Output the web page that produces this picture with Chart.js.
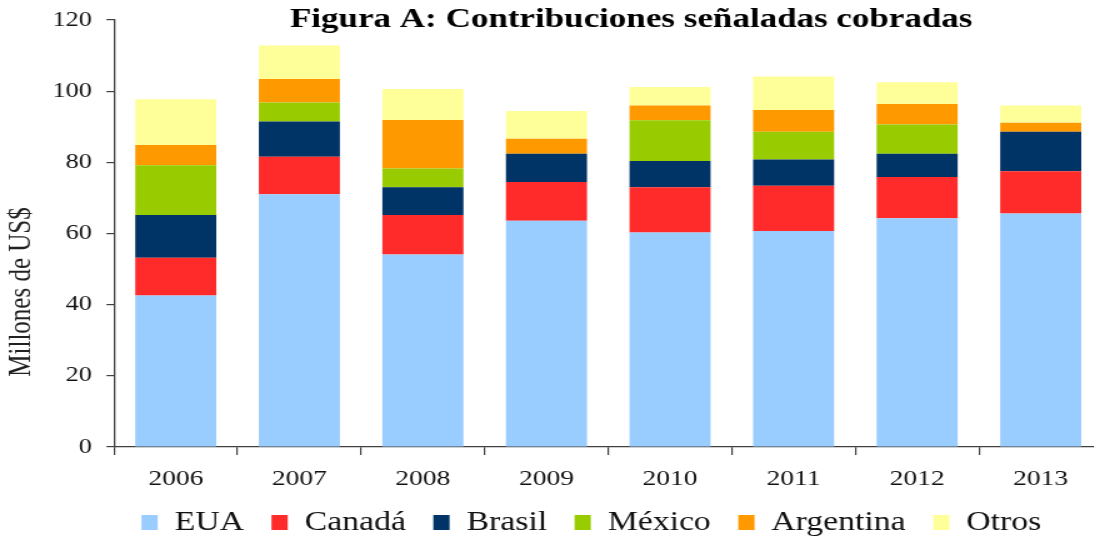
<!DOCTYPE html>
<html>
<head>
<meta charset="utf-8">
<script src="https://cdn.jsdelivr.net/npm/chart.js@4.4.1/dist/chart.umd.min.js"></script>
<style>
  html, body { margin: 0; padding: 0; background: #fff; overflow: hidden; }
  /* the reference is drawn slightly stretched sideways, so we stretch too */
  #wrap { width: 885px; height: 546px; transform: scaleX(1.25); transform-origin: 0 0; }
</style>
</head>
<body>
<div id="wrap"><canvas id="chart" width="885" height="546"></canvas></div>
<script>
const years = ["2006", "2007", "2008", "2009", "2010", "2011", "2012", "2013"];
const eua       = [42.6, 71.0, 54.1, 63.6, 60.3, 60.7, 64.3, 65.6];
const canada    = [10.6, 10.6, 11.1, 10.9, 12.7, 12.7, 11.6, 11.9];
const brasil    = [12.0,  9.9,  7.8,  7.9,  7.4,  7.4,  6.5, 11.1];
const mexico    = [14.0,  5.3,  5.3,  0.0, 11.4,  7.8,  8.2,  0.0];
const argentina = [ 5.7,  6.6, 13.6,  4.2,  4.2,  6.1,  5.8,  2.5];
const otros     = [12.8,  9.4,  8.7,  7.8,  5.2,  9.4,  6.1,  4.9];

const SERIF = "'Liberation Serif', serif";
const AXIS = "#404040";
Chart.defaults.font.family = SERIF;
Chart.defaults.color = "#111";

// title and y-axis caption sit at fixed spots in the reference, not centred
const textPlugin = {
  id: "figText",
  afterDraw(chart) {
    const { ctx } = chart;
    ctx.save();
    ctx.fillStyle = "#000";
    ctx.font = `bold 28px ${SERIF}`;
    ctx.textAlign = "center";
    ctx.textBaseline = "alphabetic";
    ctx.fillText("Figura A: Contribuciones señaladas cobradas", 505, 27);

    ctx.font = `25px ${SERIF}`;
    ctx.translate(17, 292);
    ctx.rotate(-Math.PI / 2);
    ctx.textBaseline = "middle";
    ctx.fillStyle = "#222";
    ctx.fillText("Millones de US$", 0, 0);
    ctx.restore();
  },
};

function ds(label, data, color) {
  return { label, data, backgroundColor: color, borderWidth: 0, stack: "s" };
}

new Chart(document.getElementById("chart"), {
  type: "bar",
  data: {
    labels: years,
    datasets: [
      ds("EUA", eua, "#99CCFF"),
      ds("Canadá", canada, "#FF2A2A"),
      ds("Brasil", brasil, "#003366"),
      ds("México", mexico, "#99CC00"),
      ds("Argentina", argentina, "#FF9900"),
      ds("Otros", otros, "#FFFF99"),
    ],
  },
  options: {
    responsive: false,
    animation: false,
    devicePixelRatio: 1,
    datasets: { bar: { categoryPercentage: 1, barPercentage: 0.656 } },
    layout: { padding: { top: 20, left: 0, right: 3, bottom: 0 } },
    scales: {
      x: {
        stacked: true,
        border: { display: true, color: AXIS, width: 1.3 },
        grid: { offset: true, drawOnChartArea: false, drawTicks: true, tickLength: 8, color: AXIS, lineWidth: 1.2 },
        ticks: { color: "#111", padding: 11, font: { family: SERIF, size: 22 } },
        afterFit: (s) => { s.height = 40; },
      },
      y: {
        stacked: true,
        min: 0,
        max: 120,
        border: { display: true, color: AXIS, width: 1.3 },
        grid: { drawOnChartArea: false, drawTicks: true, tickLength: 6, color: AXIS, lineWidth: 1.2 },
        ticks: { stepSize: 20, color: "#111", padding: 11.6, font: { family: SERIF, size: 21 } },
        // keep the 120 tick flush with the top padding
        afterFit: (s) => { s.width = 91.2; s.paddingTop = 0; s.paddingBottom = 0; },
      },
    },
    plugins: {
      legend: {
        position: "bottom",
        fullSize: false,
        align: "start",
        labels: {
          boxWidth: 13,
          boxHeight: 15,
          padding: 22,
          color: "#111",
          font: { family: SERIF, size: 27 },
        },
      },
      tooltip: { enabled: false },
    },
  },
  plugins: [textPlugin],
});
</script>
</body>
</html>
